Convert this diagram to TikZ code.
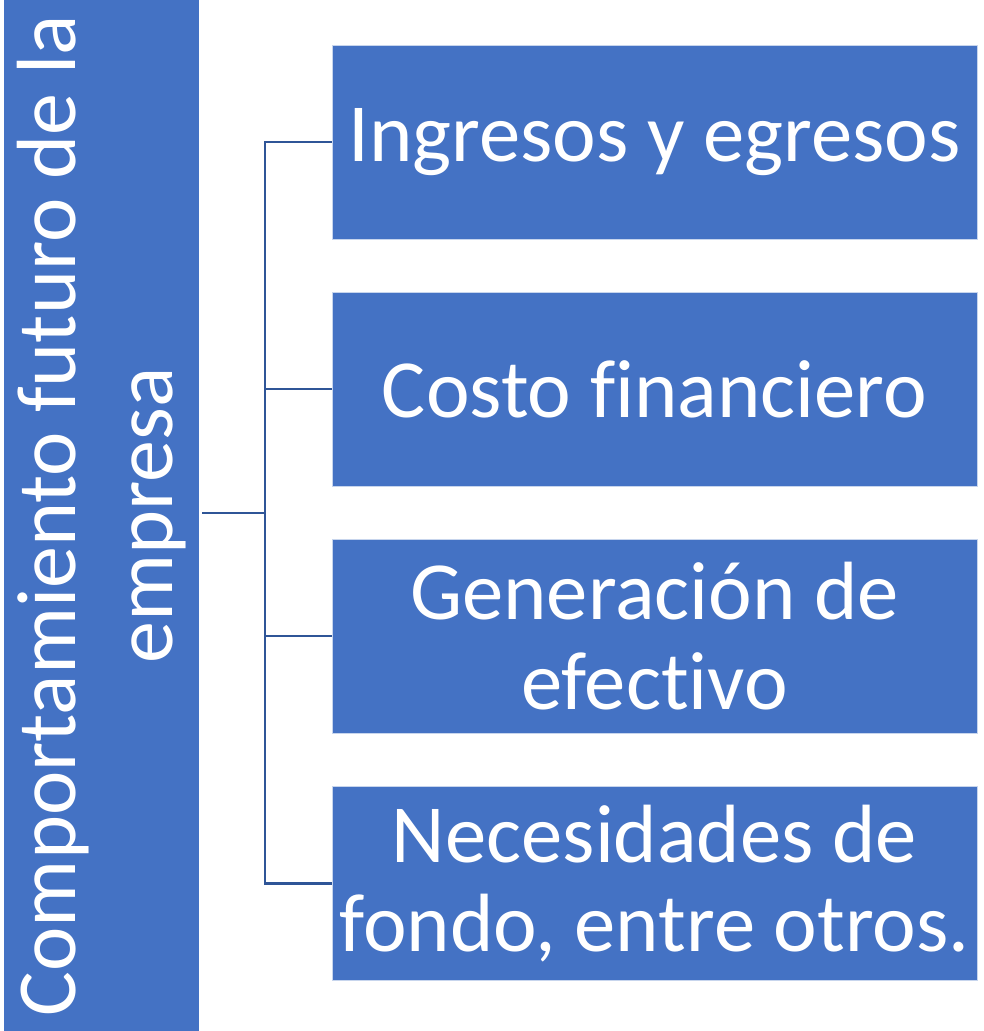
\documentclass[tikz,border=0pt]{standalone}
\usepackage{fontspec}
\setmainfont{Carlito}[Ligatures={NoCommon}]
\definecolor{boxblue}{HTML}{4472C4}
\definecolor{linkblue}{HTML}{2F5597}
\tikzset{
  itembox/.style={fill=boxblue, draw=white!70!boxblue, line width=0.5pt, text=white,
    minimum width=645*0.75pt, minimum height=194*0.75pt, inner sep=0pt,
    align=center, font=\fontsize{62}{67}\selectfont},
  link/.style={draw=linkblue, line width=2.2pt}
}
\begin{document}
\begin{tikzpicture}[x=0.75pt, y=-0.75pt]
  \useasboundingbox (0,0) rectangle (984,1031);

  % Main box
  \node[fill=boxblue, text=white, minimum width=1031*0.75pt, minimum height=195*0.75pt,
    inner sep=0pt, outer sep=0pt, rotate=90, align=center,
    font=\fontsize{63}{73}\selectfont] (comp) at (101.5,515.5)
    {Comportamiento futuro de la\\empresa};

  % Items
  \node[itembox] (ing) at (654.5,142) {Ingresos y egresos};
  \node[itembox] (costo) at (654.5,389) {Costo financiero};
  \node[itembox] (gen) at (654.5,636) {Generación de\\efectivo};
  \node[itembox] (nec) at (654.5,883.5) {Necesidades de\\fondo, entre otros.};

  % Connectors
  \coordinate (bus) at (265,513);
  \draw[link] (comp.south |- bus) ++(3,0) -- (bus);
  \foreach \n in {ing,costo,gen,nec}
    \draw[link] (bus) |- (\n.west);
\end{tikzpicture}
\end{document}
